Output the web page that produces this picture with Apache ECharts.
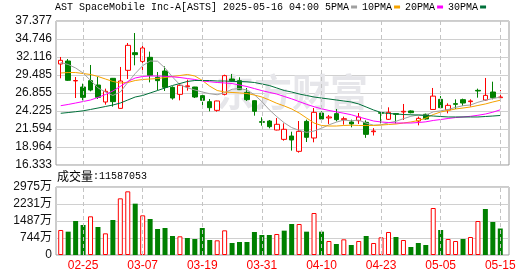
<!DOCTYPE html>
<html>
<head>
<meta charset="utf-8">
<script src="https://cdn.jsdelivr.net/npm/echarts@6/dist/echarts.min.js"></script>
<style>
html, body { margin: 0; padding: 0; background: #fff; }
#chart { width: 530px; height: 276px; }
</style>
</head>
<body>
<div id="chart"></div>
<script>
// trading days shown on the chart
const dates = ['02-20','02-21','02-24','02-25','02-26','02-27','02-28',
  '03-03','03-04','03-05','03-06','03-07','03-10','03-11','03-12','03-13','03-14',
  '03-17','03-18','03-19','03-20','03-21','03-24','03-25','03-26','03-27','03-28','03-31',
  '04-01','04-02','04-03','04-04','04-07','04-08','04-09','04-10','04-11',
  '04-14','04-15','04-16','04-17','04-21','04-22','04-23','04-24','04-25',
  '04-28','04-29','04-30','05-01','05-02','05-05','05-06','05-07','05-08','05-09',
  '05-12','05-13','05-14','05-15'];
const xLabels = ['02-25','03-07','03-19','03-31','04-10','04-23','05-05','05-15'];

// [open, close, low, high]
const ohlc = [
  [31.09,31.63,29.00,32.12],[31.53,28.71,28.61,31.82],[28.62,28.68,26.12,29.19],[27.73,26.22,25.78,28.22],
  [28.66,27.29,27.10,30.95],[28.02,26.22,25.98,29.19],[25.54,27.10,25.15,27.49],[29.00,25.59,24.86,29.05],
  [24.61,28.61,24.57,30.66],[30.17,33.82,28.90,34.16],[32.75,32.46,30.90,35.62],[31.48,33.43,29.73,34.21],
  [32.07,29.44,28.41,32.90],[29.15,28.66,27.25,29.92],[30.07,27.68,27.15,30.75],[27.68,26.12,25.88,27.83],
  [26.66,27.98,25.78,28.27],[27.78,27.90,27.20,28.80],[27.73,26.27,26.12,27.75],[26.47,25.78,24.76,26.71],
  [25.59,24.71,24.18,25.98],[24.32,25.69,24.13,25.73],[26.66,29.39,26.51,29.53],[28.90,28.66,28.56,29.63],
  [28.66,27.34,27.29,29.15],[26.95,25.88,25.69,27.59],[25.73,24.18,23.54,25.78],[22.67,22.57,22.08,23.30],
  [22.76,21.94,21.69,22.91],[21.45,22.28,21.40,23.20],[20.08,21.55,19.89,22.42],[20.57,19.99,18.43,21.20],
  [18.33,21.25,18.14,22.76],[22.71,20.38,19.69,22.96],[20.28,24.03,19.65,24.66],[23.93,23.05,22.62,24.18],
  [23.21,23.35,22.33,23.64],[23.84,22.96,22.71,24.52],[22.96,23.10,22.23,23.40],[22.62,22.33,21.84,22.96],
  [22.81,23.35,22.33,23.93],[22.57,20.81,20.30,22.86],[21.20,21.30,20.64,21.72],[23.98,23.90,22.42,24.03],
  [23.01,24.03,22.91,24.76],[23.84,23.74,22.42,23.88],[24.08,24.18,22.91,25.25],[24.23,23.98,23.88,24.32],
  [22.76,23.15,22.13,23.40],[23.74,23.06,22.96,23.84],[24.45,26.40,24.45,27.59],[25.93,24.71,24.52,26.42],
  [24.37,25.05,23.88,25.35],[25.30,25.20,24.52,25.93],[25.88,25.39,24.96,26.03],[25.59,25.69,24.86,25.93],
  [27.24,27.15,26.17,27.49],[25.83,26.51,25.73,29.05],[27.00,26.17,25.93,28.51],[26.17,26.27,25.68,27.29]
];

const ma5 = [31.31,31.02,30.51,29.78,28.70,27.60,27.00,26.50,27.00,28.40,
  29.70,30.85,31.53,31.50,30.50,29.20,28.05,27.62,27.30,27.00,
  26.75,26.60,26.90,27.40,27.50,27.30,26.60,25.60,24.40,23.40,
  22.50,21.80,21.40,21.10,21.30,21.70,22.20,22.60,22.90,22.80,
  22.90,22.45,22.15,22.20,22.50,22.72,23.10,23.45,23.65,23.60,
  24.10,24.25,24.45,24.75,25.00,25.10,25.50,25.80,26.05,26.25];
const ma10 = [29.78,29.85,29.85,29.70,29.56,29.27,28.90,28.54,28.32,28.39,
  28.68,28.83,28.90,28.97,29.12,29.27,29.41,29.56,29.34,28.70,
  27.85,27.22,27.00,26.93,26.86,26.78,26.56,26.27,25.83,25.35,
  24.96,24.52,23.93,23.20,22.47,22.11,22.03,22.03,22.11,22.15,
  22.11,22.11,22.11,22.17,22.25,22.32,22.47,22.62,22.84,23.18,
  23.71,24.08,24.30,24.52,24.66,24.81,25.03,25.25,25.54,25.80];
const ma20 = [25.00,25.18,25.39,25.61,25.83,26.20,26.64,27.15,27.81,28.54,
  29.05,29.27,29.34,29.34,29.30,29.22,29.12,28.97,28.83,28.62,
  28.50,28.39,28.32,28.24,28.02,27.80,27.50,27.20,26.95,26.70,
  26.35,26.00,25.60,25.20,24.85,24.55,24.30,24.10,23.90,23.68,
  23.35,23.06,22.76,22.62,22.54,22.47,22.47,22.47,22.54,22.64,
  22.84,22.98,23.13,23.27,23.35,23.45,23.60,23.78,24.05,24.40];
const ma30 = [23.89,24.00,24.12,24.25,24.45,24.66,24.88,25.10,25.39,25.83,
  26.27,26.49,26.86,27.22,27.59,27.95,28.24,28.54,28.68,28.68,
  28.68,28.61,28.61,28.54,28.54,28.49,28.39,28.17,27.95,27.59,
  27.22,27.00,26.71,26.49,26.27,26.12,25.98,25.83,25.69,25.54,
  25.25,24.81,24.37,24.00,23.86,23.79,23.71,23.67,23.64,23.57,
  23.49,23.42,23.35,23.35,23.35,23.35,23.35,23.42,23.49,23.57];

// volume in 万 shares, 1 = closed above previous close
const volumes = [1094,1021,1487,1312,1692,1225,948,1531,2479,2785,
  2246,1735,1575,1137,1181,831,817,744,700,1181,
  656,642,1079,525,569,569,1006,875,875,919,
  1065,1356,1356,1021,1837,1021,612,481,685,437,
  612,831,525,773,1006,787,656,350,525,437,
  2056,1094,700,612,700,787,1487,2012,1444,1159];
const volUp = [1,0,0,0,1,0,1,0,1,1, 0,1,0,0,0,0,1,0,0,0, 0,1,1,0,0,0,0,0,0,1,
  0,0,1,0,1,0,1,0,1,0, 1,0,1,1,1,0,1,0,0,0, 1,0,1,1,0,1,1,0,0,0];

const priceTicks = ['16.333','18.964','21.594','24.225','26.855','29.485','32.116','34.746','37.377'];
const volTicks = ['0','744万','1487万','2231万','2975万'];
const lastVolume = 11587053;

const RED = '#ff0000';
const GREEN = '#008000';
const chart = echarts.init(document.getElementById('chart'));

const dashed = {
    silent: true,
    symbol: ['none', 'none'],
    label: { show: false },
    lineStyle: { color: '#c4c4c4', type: [4, 3], width: 1 },
    emphasis: { disabled: true },
    data: xLabels.map((d) => ({ xAxis: d })),
};

const hiddenAxis = { show: false };
const maLine = (name, data, color) => ({
    name: name,
    type: 'line',
    xAxisIndex: 2,
    yAxisIndex: 2,
    data: data,
    symbol: 'none',
    silent: true,
    z: 4,
    lineStyle: { width: 1, color: color },
    itemStyle: { color: color },
});

const swatch = (c) => ({ width: 6, height: 3, backgroundColor: c, verticalAlign: 'middle' });

chart.setOption({
    animation: false,
    backgroundColor: '#fff',
    title: [
        {
            left: 55,
            top: 2,
            padding: 0,
            text: 'AST SpaceMobile Inc-A[ASTS] 2025-05-16 04:00 5PMA{g| }{a| }{h| }10PMA{g| }{b| }{h| }20PMA{g| }{c| }{h| }30PMA{g| }{d| }',
            textStyle: {
                fontFamily: 'Liberation Mono',
                fontSize: 10,
                fontWeight: 'normal',
                color: '#000',
                rich: {
                    g: { width: 2 },
                    h: { width: 5 },
                    a: swatch('#a0a0a0'),
                    b: swatch('#f5a300'),
                    c: swatch('#ff00ff'),
                    d: swatch('#00703a'),
                },
            },
        },
        {
            left: 57,
            top: 170,
            padding: 0,
            text: '{z|成交量}:' + lastVolume,
            textStyle: {
                fontFamily: 'Liberation Mono',
                fontSize: 10,
                fontWeight: 'normal',
                color: '#000',
                rich: { z: { fontFamily: 'Noto Sans CJK SC', fontSize: 12 } },
            },
        },
    ],
    graphic: [
        {
            type: 'text',
            left: 216,
            top: 73,
            z: 1,
            silent: true,
            style: { text: '东方财富', fontSize: 38, fontWeight: 'bold', fontFamily: 'Noto Sans CJK SC', fill: '#e6e6ea' },
        },
    ],
    grid: [
        { left: 56, right: 21, top: 21, height: 144, show: true, borderColor: '#999', borderWidth: 1, backgroundColor: 'transparent' },
        { left: 56, right: 21, top: 187, height: 68, show: true, borderColor: '#999', borderWidth: 1, backgroundColor: 'transparent' },
        { left: 57, right: 26, top: 21, height: 144 },
        { left: 57, right: 26, top: 187, height: 68 },
    ],
    xAxis: [
        { gridIndex: 0, type: 'value', min: 0, max: 1, ...hiddenAxis },
        { gridIndex: 1, type: 'value', min: 0, max: 1, ...hiddenAxis },
        {
            gridIndex: 2,
            type: 'category',
            data: dates,
            boundaryGap: true,
            axisLine: { show: false },
            axisTick: { show: false },
            axisLabel: { show: false },
            splitLine: { show: false },
        },
        {
            gridIndex: 3,
            type: 'category',
            data: dates,
            boundaryGap: true,
            axisLine: { show: false },
            axisTick: { show: false },
            splitLine: { show: false },
            axisLabel: {
                interval: (i, v) => xLabels.includes(v),
                color: RED,
                fontFamily: 'Liberation Sans',
                fontSize: 12,
                margin: 5,
            },
        },
    ],
    yAxis: [
        {
            gridIndex: 0,
            type: 'value',
            min: 0,
            max: priceTicks.length - 1,
            interval: 1,
            axisLine: { show: false },
            axisTick: { show: false },
            axisLabel: { formatter: (v) => priceTicks[v], color: '#111', fontFamily: 'Liberation Sans', fontSize: 12, margin: 4 },
            splitLine: { lineStyle: { color: '#d0d0d0', width: 1 } },
        },
        {
            gridIndex: 1,
            type: 'value',
            min: 0,
            max: volTicks.length - 1,
            interval: 1,
            axisLine: { show: false },
            axisTick: { show: false },
            axisLabel: { formatter: (v) => volTicks[v], color: '#111', fontFamily: 'Liberation Sans, Noto Sans CJK SC', fontSize: 12, margin: 4 },
            splitLine: { lineStyle: { color: '#d0d0d0', width: 1 } },
        },
        { gridIndex: 2, type: 'value', min: Number(priceTicks[0]), max: Number(priceTicks[priceTicks.length - 1]), ...hiddenAxis },
        { gridIndex: 3, type: 'value', min: 0, max: parseFloat(volTicks[volTicks.length - 1]), ...hiddenAxis },
    ],
    series: [
        {
            type: 'line',
            xAxisIndex: 2,
            yAxisIndex: 2,
            data: [],
            z: 1,
            markLine: dashed,
        },
        {
            name: 'K',
            type: 'candlestick',
            xAxisIndex: 2,
            yAxisIndex: 2,
            data: ohlc,
            barWidth: 5,
            silent: true,
            z: 3,
            itemStyle: { color: '#fff', color0: GREEN, borderColor: RED, borderColor0: GREEN, borderWidth: 1 },
        },
        maLine('5PMA', ma5, '#a0a0a0'),
        maLine('10PMA', ma10, '#f5a300'),
        maLine('20PMA', ma20, '#ff00ff'),
        maLine('30PMA', ma30, '#00703a'),
        {
            type: 'line',
            xAxisIndex: 3,
            yAxisIndex: 3,
            data: [],
            z: 1,
            markLine: dashed,
        },
        {
            name: '成交量',
            type: 'bar',
            xAxisIndex: 3,
            yAxisIndex: 3,
            barWidth: 5,
            silent: true,
            z: 3,
            data: volumes.map((v, i) => ({
                value: v,
                itemStyle: volUp[i] ? { color: '#fff', borderColor: RED, borderWidth: 1 } : { color: GREEN },
            })),
        },
    ],
});
</script>
</body>
</html>
